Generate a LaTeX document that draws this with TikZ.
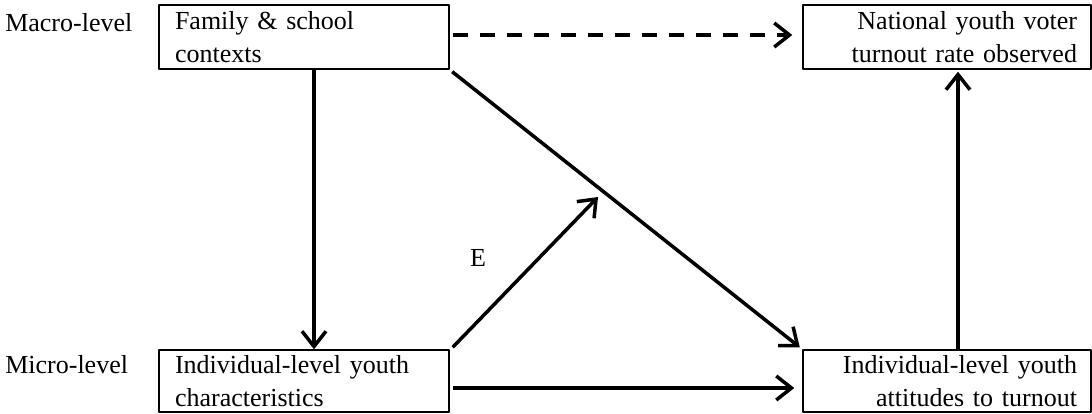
\documentclass[tikz,border=0pt]{standalone}
\usepackage{fontspec}
\setmainfont{Liberation Serif}
\usetikzlibrary{arrows.meta}
\begin{document}
\begin{tikzpicture}[font=\fontsize{18.5}{23}\selectfont, line join=round,
	>={Straight Barb[length=3.8mm,width=6mm]},
	box/.style={draw, line width=1pt, minimum width=7.25cm, minimum height=1.6cm, inner xsep=0.4cm, text width=6.45cm, align=left},
	rbox/.style={box, minimum width=7.2cm, inner xsep=0.35cm, text width=6.5cm, align=right},
	link/.style={->, line width=2.5pt}]
	\useasboundingbox (0,0) rectangle (27.3,10.325);
	\node[box] (fam) at (7.6,9.4) {Family \& school\\contexts};
	\node[rbox] (nat) at (23.675,9.4) {National youth voter\\turnout rate observed};
	\node[box, minimum height=1.55cm] (char) at (7.6,0.8) {Individual-level youth\\characteristics};
	\node[rbox, minimum height=1.55cm] (att) at (23.675,0.8) {Individual-level youth\\attitudes to turnout};
	\node[anchor=west, inner sep=0] (macro) at (0.125,9.75) {Macro-level};
	\node[anchor=west, inner sep=0] (micro) at (0.125,1.2) {Micro-level};
	\node (elab) at (11.95,3.875) {$\mathrm{E}$};
	\coordinate (mid) at (14.95,5.4);
	% arrows
	\draw[link, dashed, dash pattern=on 0.375cm off 0.3cm, shorten >=0.25cm] ([shift={(0.075cm,0.05cm)}]fam.east) -- ([yshift=0.05cm]nat.west);
	\draw[link] ([xshift=0.25cm]fam.south) -- ([xshift=0.25cm]char.north);
	\draw[link, shorten <=0.08cm, shorten >=0.08cm] (fam.south east) -- (att.north west);
	\draw[link] ([shift={(0.075cm,0.05cm)}]char.north east) -- (mid);
	\draw[link, shorten <=0.075cm, shorten >=0.2cm] ([yshift=-0.175cm]char.east) -- ([yshift=-0.175cm]att.west);
	\draw[link, shorten >=0.05cm] ([xshift=0.275cm]att.north) -- ([xshift=0.275cm]nat.south);
\end{tikzpicture}
\end{document}
